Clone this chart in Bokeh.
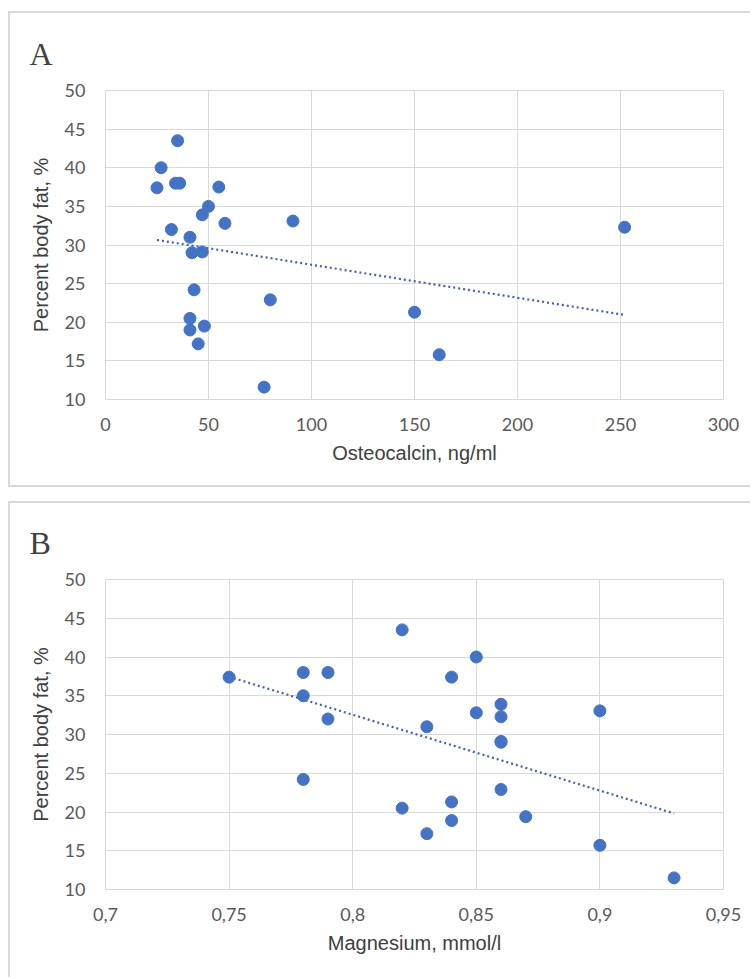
import numpy as np
from bokeh.plotting import figure
from bokeh.layouts import column
from bokeh.models import (Range1d, FixedTicker, Title, CustomJSTickFormatter)
from bokeh.embed import file_html
from bokeh.resources import INLINE

# ---- data ----
osteocalcin = [35, 27, 25, 34, 36, 55, 50, 47, 58, 91, 32, 41, 42, 47, 43, 80,
               41, 41, 48, 45, 77, 150, 162, 252]
fat_a = [43.5, 40.0, 37.4, 38.0, 38.0, 37.5, 35.0, 33.9, 32.8, 33.1, 32.0, 31.0,
         29.0, 29.1, 24.2, 22.9, 20.5, 19.0, 19.5, 17.2, 11.6, 21.3, 15.8, 32.3]

magnesium = [0.75, 0.78, 0.79, 0.78, 0.79, 0.82, 0.83, 0.78, 0.82, 0.83, 0.85, 0.84,
             0.85, 0.86, 0.86, 0.90, 0.86, 0.86, 0.86, 0.84, 0.84, 0.87, 0.90, 0.93]
fat_b = [37.4, 38.0, 38.0, 35.0, 32.0, 43.5, 31.0, 24.2, 20.5, 17.2, 40.0, 37.4,
         32.8, 33.9, 32.3, 33.05, 29.1, 29.0, 22.9, 21.3, 18.9, 19.4, 15.7, 11.5]

y_ticks = [10, 15, 20, 25, 30, 35, 40, 45, 50]
x_ticks_a = [0, 50, 100, 150, 200, 250, 300]
x_ticks_b = [0.7, 0.75, 0.8, 0.85, 0.9, 0.95]
x_labels_b = ["0,7", "0,75", "0,8", "0,85", "0,9", "0,95"]

BLUE = "#4472C4"
GRID = "#d9d9d9"
TXT = "#595959"
BOX = "2px solid #d9d9d9"


def make_panel(x, y, xr, xticks, xlabel, letter, height, top, bottom,
               margin, styles, xlabels=None):
    p = figure(width=742, height=height, output_backend="svg", toolbar_location=None,
               x_range=Range1d(*xr), y_range=Range1d(10, 50),
               min_border_left=95, min_border_right=29,
               min_border_top=top, min_border_bottom=bottom,
               margin=margin, styles=styles)
    p.background_fill_color = "white"
    p.border_fill_color = "white"
    p.outline_line_color = GRID
    p.outline_line_width = 1

    for g in (p.xgrid, p.ygrid):
        g.grid_line_color = GRID
        g.grid_line_width = 1

    p.xaxis.ticker = FixedTicker(ticks=xticks)
    p.yaxis.ticker = FixedTicker(ticks=y_ticks)
    p.xgrid.ticker = FixedTicker(ticks=xticks)
    p.ygrid.ticker = FixedTicker(ticks=y_ticks)
    if xlabels is not None:
        p.xaxis.formatter = CustomJSTickFormatter(args=dict(t=xticks, l=xlabels), code="""
            let best = 0;
            for (let i = 0; i < t.length; i++) {
                if (Math.abs(t[i] - tick) < Math.abs(t[best] - tick)) best = i;
            }
            return l[best];
        """)

    for ax in (p.xaxis, p.yaxis):
        ax.axis_line_color = None
        ax.major_tick_line_color = None
        ax.minor_tick_line_color = None
        ax.major_label_text_font = "Lato"
        ax.major_label_text_font_size = "18px"
        ax.major_label_text_color = TXT
        ax.axis_label_text_font = "Liberation Sans"
        ax.axis_label_text_font_size = "20px"
        ax.axis_label_text_font_style = "normal"
        ax.axis_label_text_color = "#404040"
    p.xaxis.major_label_standoff = 12
    p.yaxis.major_label_standoff = 14
    p.xaxis.axis_label_standoff = 8
    p.yaxis.axis_label_standoff = 10
    p.xaxis.axis_label = xlabel
    p.yaxis.axis_label = "Percent body fat, %"

    # panel letter as a left-shifted title
    p.add_layout(Title(text=letter, align="left", offset=-76, standoff=38,
                       text_font="Liberation Serif", text_font_size="32px",
                       text_font_style="normal", text_color="#404040"), "above")

    # trendline (least squares from the data)
    k, b = np.polyfit(x, y, 1)
    xs = [min(x), max(x)]
    p.line(xs, [k * v + b for v in xs], line_color="#3c64ad", line_width=2.2,
           line_dash="2 3")
    p.scatter(x, y, size=12, fill_color=BLUE, line_color=BLUE)
    return p


pa = make_panel(osteocalcin, fat_a, (0, 300), x_ticks_a, "Osteocalcin, ng/ml", "A",
                476, 77, 90, (11, 0, 0, 8),
                {"border-top": BOX, "border-left": BOX, "border-bottom": BOX})
pb = make_panel(magnesium, fat_b, (0.7, 0.95), x_ticks_b, "Magnesium, mmol/l", "B",
                476, 76, 90, (14, 0, 0, 8),
                {"border-top": BOX, "border-left": BOX}, xlabels=x_labels_b)

layout = column(pa, pb, spacing=0)
open("out.html", "w").write(file_html(layout, INLINE))
